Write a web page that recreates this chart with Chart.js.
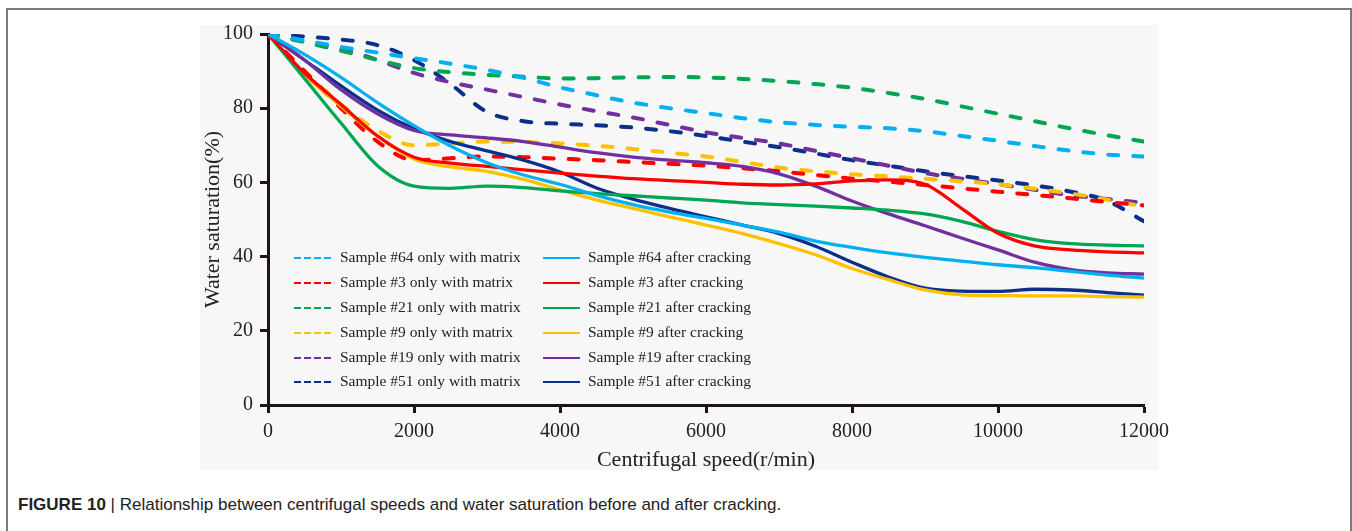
<!DOCTYPE html>
<html>
<head>
<meta charset="utf-8">
<script src="https://cdn.jsdelivr.net/npm/chart.js@4/dist/chart.umd.min.js"></script>
<style>
  body { margin: 0; background: #fff; width: 1352px; height: 531px; overflow: hidden; position: relative; }
  #frame { position: absolute; left: 6px; top: 8px; width: 1342px; height: 530px;
           border: 2px solid #7a7a7a; border-bottom: none; }
  #wrap { position: absolute; left: 200px; top: 5px; }
  #caption { position: absolute; left: 18px; top: 495px; font-family: "Liberation Sans", Arial, sans-serif;
             font-size: 17px; color: #222; white-space: nowrap; }
  #caption b { font-weight: bold; }
</style>
</head>
<body>
<div id="frame"></div>
<div id="wrap"><canvas id="chart" width="1000" height="470"></canvas></div>
<div id="caption"><b>FIGURE 10</b> | Relationship between centrifugal speeds and water saturation before and after cracking.</div>
<script>
// centrifugal speed (r/min), shared by every curve
const speeds = [0, 500, 1000, 1500, 2000, 2500, 3000, 3500, 4000, 4500, 5000, 5500, 6000,
                6500, 7000, 7500, 8000, 8500, 9000, 9500, 10000, 10500, 11000, 11500, 12000];

// water saturation (%), only with matrix
const matrix64 = [100, 98.3, 96.5, 95, 93.5, 92, 90.3, 88.2, 85.6, 83.5, 81.5, 80, 78.7,
                  77.3, 76.2, 75.5, 75, 74.6, 73.8, 72.5, 71.2, 69.8, 68.5, 67.5, 67];
const matrix3 = [100, 90, 80, 71, 66, 66.5, 67, 66.8, 66.4, 66, 65.5, 65, 64.5,
                 63.8, 63, 62, 61, 60.2, 59.3, 58.4, 57.5, 56.6, 55.7, 54.7, 53.8];
const matrix21 = [100, 97.8, 95.5, 93, 90.8, 89.7, 89, 88.5, 88, 88.1, 88.3, 88.4, 88.3,
                  87.9, 87.3, 86.5, 85.5, 84.1, 82.5, 80.5, 78.5, 76.5, 74.5, 72.7, 71];
const matrix9 = [100, 90, 81, 74, 70, 70.5, 71, 70.9, 70.5, 69.9, 69, 68, 67,
                 65.5, 64, 63, 62.2, 61.6, 61, 60.3, 59.5, 58.3, 57, 55.3, 53.5];
const matrix19 = [100, 98, 96, 93, 89.5, 87, 85, 83, 81, 79.2, 77.5, 75.5, 73.5,
                  72, 70.5, 68.5, 66.5, 64.5, 62.5, 61, 59.5, 58, 56.5, 55.5, 54.5];
const matrix51 = [100, 99.3, 98.5, 97, 93, 86.5, 79, 76.5, 75.8, 75.4, 74.8, 73.8, 72.5,
                  71, 69.5, 67.8, 66, 64.5, 63, 61.7, 60.5, 59.2, 57.5, 55, 49.5];

// water saturation (%), after cracking
const crack64 = [100, 94.5, 88.3, 81.5, 75.3, 69.8, 65.3, 62, 59.5, 56.5, 54, 52, 50.3,
                 48.5, 46.6, 44.2, 42.5, 41, 39.8, 38.8, 37.8, 37, 36, 35, 34.2];
const crack3 = [100, 89.5, 81, 72.5, 66.8, 65.2, 64.3, 63.4, 62.5, 61.7, 61, 60.5, 60,
                59.5, 59.3, 59.6, 60.4, 60.7, 59.5, 53, 46.3, 42.9, 41.8, 41.3, 41];
const crack21 = [100, 88, 76, 64.5, 59, 58.4, 59, 58.6, 57.7, 57, 56.4, 55.8, 55.2,
                 54.5, 54, 53.6, 53.1, 52.5, 51.5, 49.5, 46.8, 44.6, 43.5, 43.1, 42.9];
const crack9 = [100, 89, 80.5, 72.5, 66.3, 64.2, 63, 60.8, 58, 55.3, 53, 50.7, 48.5,
                46.2, 43.5, 40.5, 36.8, 33.8, 31, 29.7, 29.5, 29.4, 29.4, 29.2, 29.1];
const crack19 = [100, 93, 85, 78.5, 74, 72.8, 72, 71, 69.5, 68, 66.8, 66, 65.3,
                 64.3, 62.3, 59, 55, 51.5, 48.3, 45, 41.8, 38.5, 36.5, 35.6, 35.3];
const crack51 = [100, 93, 86, 79.5, 74.5, 71, 68.5, 66, 62.8, 58.5, 55.5, 53, 50.7,
                 48.5, 46.2, 42.8, 38.5, 34.5, 31.5, 30.7, 30.6, 31.2, 31, 30.3, 29.6];

const sampleNames = ['#64', '#3', '#21', '#9', '#19', '#51'];
const sampleColors = ['#00b0f0', '#ff0000', '#00a651', '#ffc000', '#7030a0', '#0b2f8a'];
const matrixSeries = [matrix64, matrix3, matrix21, matrix9, matrix19, matrix51];
const crackSeries = [crack64, crack3, crack21, crack9, crack19, crack51];

const xTicks = [0, 2000, 4000, 6000, 8000, 10000, 12000];
const yTicks = [0, 20, 40, 60, 80, 100];

const axisColor = '#1e1414';
const textColor = '#222';
const serif = '"Liberation Serif", "Times New Roman", serif';

function toPoints(values) {
    return values.map((v, i) => ({x: speeds[i], y: v}));
}

const datasets = [];
matrixSeries.forEach((values, i) => {
    datasets.push({
        label: 'Sample ' + sampleNames[i] + ' only with matrix',
        data: toPoints(values),
        borderColor: sampleColors[i],
        borderWidth: 4,
        borderDash: [10, 15],
        borderCapStyle: 'round',
        dashed: true,
        pointRadius: 0,
        cubicInterpolationMode: 'monotone',
        order: 2
    });
});
crackSeries.forEach((values, i) => {
    datasets.push({
        label: 'Sample ' + sampleNames[i] + ' after cracking',
        data: toPoints(values),
        borderColor: sampleColors[i],
        borderWidth: 3.3,
        dashed: false,
        pointRadius: 0,
        cubicInterpolationMode: 'monotone',
        order: 1
    });
});

// light grey panel behind the plot, like the scanned figure
const panelBg = {
    id: 'panelBg',
    beforeDraw(chart) {
        const ctx = chart.ctx;
        ctx.save();
        ctx.fillStyle = '#f7f7f7';
        ctx.fillRect(0, 20, 958, 445);
        ctx.restore();
    }
};

// two-column legend drawn inside the plot
const twoColLegend = {
    id: 'twoColLegend',
    afterDatasetsDraw(chart) {
        const ctx = chart.ctx;
        const rows = [253, 278, 303, 328, 353, 377];
        const cols = [{line: 94, text: 140}, {line: 343, text: 388}];
        ctx.save();
        ctx.font = '15.5px ' + serif;
        ctx.textBaseline = 'middle';
        chart.data.datasets.forEach((ds, i) => {
            const col = cols[ds.dashed ? 0 : 1];
            const y = rows[i % 6];
            ctx.beginPath();
            ctx.strokeStyle = ds.borderColor;
            ctx.lineWidth = 2;
            ctx.setLineDash(ds.dashed ? [7, 3] : []);
            ctx.moveTo(col.line, y);
            ctx.lineTo(col.line + 37, y);
            ctx.stroke();
            ctx.setLineDash([]);
            ctx.fillStyle = textColor;
            ctx.fillText(ds.label, col.text, y);
        });
        ctx.restore();
    }
};

new Chart(document.getElementById('chart'), {
    type: 'line',
    data: {datasets: datasets},
    options: {
        responsive: false,
        animation: false,
        layout: {padding: {left: 0, top: 29, right: 56, bottom: 0}},
        plugins: {
            legend: {display: false},
            tooltip: {enabled: false}
        },
        scales: {
            x: {
                type: 'linear',
                min: 0,
                max: 12000,
                afterBuildTicks: s => { s.ticks = xTicks.map(v => ({value: v})); },
                afterFit: s => { s.height = 70; },
                ticks: {
                    color: textColor,
                    font: {family: serif, size: 20},
                    padding: 7,
                    maxRotation: 0,
                    callback: v => String(v)
                },
                grid: {drawOnChartArea: false, tickLength: 8, tickWidth: 3, tickColor: axisColor},
                border: {color: axisColor, width: 3},
                title: {
                    display: true,
                    text: 'Centrifugal speed(r/min)',
                    color: textColor,
                    font: {family: serif, size: 22},
                    padding: {top: 2, bottom: 2}
                }
            },
            y: {
                type: 'linear',
                min: 0,
                max: 100,
                afterBuildTicks: s => { s.ticks = yTicks.map(v => ({value: v})); },
                afterFit: s => { s.width = 68; },
                ticks: {
                    color: textColor,
                    font: {family: serif, size: 20},
                    padding: 7,
                    callback: v => String(v)
                },
                grid: {drawOnChartArea: false, tickLength: 8, tickWidth: 3, tickColor: axisColor},
                border: {color: axisColor, width: 3},
                title: {
                    display: true,
                    text: 'Water saturation(%)',
                    color: textColor,
                    font: {family: serif, size: 22},
                    padding: 0
                }
            }
        }
    },
    plugins: [panelBg, twoColLegend]
});
</script>
</body>
</html>
